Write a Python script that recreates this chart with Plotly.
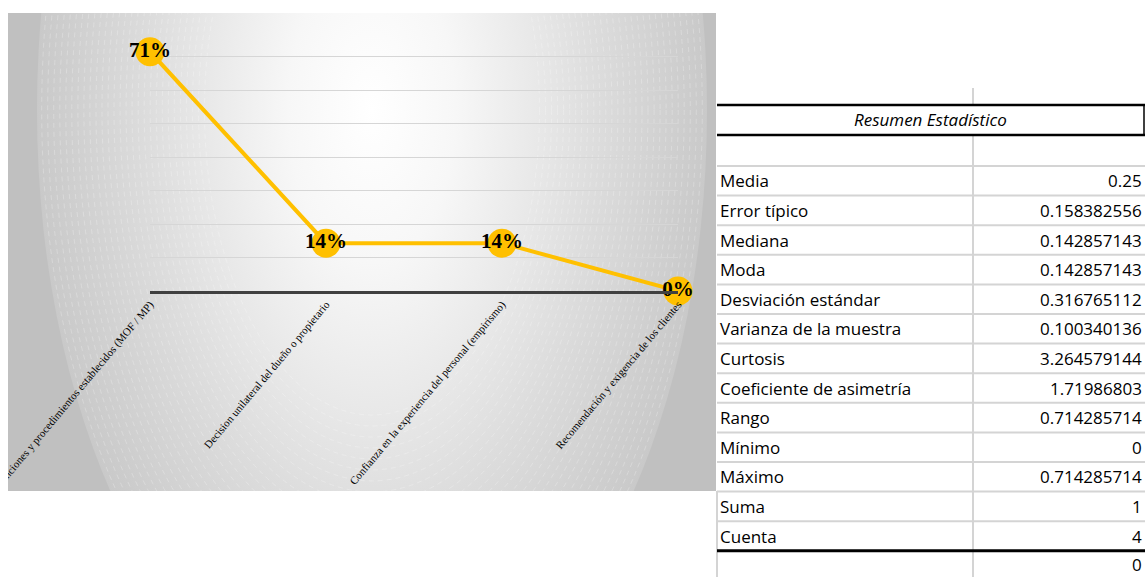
import base64
import plotly.graph_objects as go

# ---------------- data ----------------
categories = [
    "Funciones y procedimientos establecidos (MOF / MP)",
    "Decision unilateral del dueño o propietario",
    "Confianza en la experiencia del personal (empirismo)",
    "Recomendación y exigencia de los clientes",
]
values = [0.714285714, 0.142857143, 0.142857143, 0.0]

table_title = "Resumen Estadístico"
stat_names = [
    "Media", "Error típico", "Mediana", "Moda", "Desviación estándar",
    "Varianza de la muestra", "Curtosis", "Coeficiente de asimetría",
    "Rango", "Mínimo", "Máximo", "Suma", "Cuenta",
]
stat_values = [
    "0.25", "0.158382556", "0.142857143", "0.142857143", "0.316765112",
    "0.100340136", "3.264579144", "1.71986803", "0.714285714", "0",
    "0.714285714", "1", "4",
]
extra_value = "0"

# ---------------- layout geometry (pixels) ----------------
W, H = 1145, 577
L, R, T, B = 150, 678, 23, 291


def px(x):
    return (x - L) / (R - L)


def py(y):
    return (B - y) / (B - T)


# ---------------- background (radial gradient) ----------------
AW, AH = 708, 478
cx, cy, rx, ry = 364, 97, 335, 610
rings = []
s = 0.50
while s <= 1.0:
    rings.append(
        f'<ellipse cx="{cx}" cy="{cy}" rx="{rx*s:.1f}" ry="{ry*s:.1f}" fill="none" '
        f'stroke="#ffffff" stroke-opacity="0.3" stroke-width="0.8" stroke-dasharray="5 4"/>'
    )
    s += 0.018
svg = f'''<svg xmlns="http://www.w3.org/2000/svg" width="{AW}" height="{AH}" viewBox="0 0 {AW} {AH}" preserveAspectRatio="none">
<defs><radialGradient id="g" cx="0.5" cy="0.5" r="0.5">
<stop offset="0" stop-color="#ffffff"/>
<stop offset="0.25" stop-color="#f7f7f7"/>
<stop offset="0.5" stop-color="#e8e8e8"/>
<stop offset="0.68" stop-color="#dcdcdc"/>
<stop offset="1" stop-color="#c9c9c9"/>
</radialGradient></defs>
<rect x="0" y="0" width="{AW}" height="{AH}" fill="#c0c0c0"/>
<ellipse cx="{cx}" cy="{cy}" rx="{rx}" ry="{ry}" fill="url(#g)"/>
{''.join(rings)}
</svg>'''
svg_uri = "data:image/svg+xml;base64," + base64.b64encode(svg.encode()).decode()

fig = go.Figure()

fig.add_trace(go.Scatter(
    x=categories,
    y=values,
    mode="lines+markers+text",
    line=dict(color="#FFC000", width=4),
    marker=dict(color="#FFC000", size=29),
    texttemplate="<b>%{y:.0%}</b>",
    textposition="middle center",
    textfont=dict(family="Liberation Serif", size=21, color="#000000"),
    cliponaxis=False,
    hoverinfo="skip",
    showlegend=False,
))

fig.update_layout(
    width=W, height=H, autosize=False,
    margin=dict(l=L, r=W - R, t=T, b=H - B, pad=0),
    paper_bgcolor="#ffffff",
    plot_bgcolor="rgba(0,0,0,0)",
    showlegend=False,
    xaxis=dict(
        type="category", range=[0, 3], showgrid=False, zeroline=False,
        showline=True, linecolor="#404040", linewidth=2.5,
        ticks="", tickangle=-50, automargin=False,
        tickfont=dict(family="Liberation Serif", size=11, color="#000000"),
    ),
    yaxis=dict(
        range=[0, 0.8], dtick=0.1, showgrid=True, gridcolor="#d6d6d6", gridwidth=1,
        zeroline=False, showline=False, showticklabels=False, ticks="",
        automargin=False,
    ),
    images=[dict(
        source=svg_uri, xref="paper", yref="paper",
        x=px(8), y=py(13), sizex=(716 - 8) / (R - L), sizey=(491 - 13) / (B - T),
        xanchor="left", yanchor="top", sizing="stretch", layer="below",
    )],
)

shapes = []
annotations = []

# white mask left of chart area (clips first label)
shapes.append(dict(type="rect", xref="paper", yref="paper", layer="above",
                   x0=px(-5), x1=px(8), y0=py(577), y1=py(13),
                   fillcolor="#ffffff", line=dict(width=0)))

# ---------------- statistics table ----------------
TX0, TX1, TXM = 717, 1145, 973
row_top, row_h = 166, 29.6
grey = "#d4d4d4"


def hline(y, color, width):
    shapes.append(dict(type="line", xref="paper", yref="paper", layer="above",
                       x0=px(TX0), x1=px(TX1), y0=py(y), y1=py(y),
                       line=dict(color=color, width=width)))


def vline(x, y0, y1, color, width):
    shapes.append(dict(type="line", xref="paper", yref="paper", layer="above",
                       x0=px(x), x1=px(x), y0=py(y0), y1=py(y1),
                       line=dict(color=color, width=width)))


vline(TXM, 88, 105, grey, 2)
vline(TXM, 135, 577, grey, 2)
vline(717, 491, 577, grey, 2)
for k in range(len(stat_names)):
    hline(row_top + k * row_h, grey, 2)
hline(105, "#000000", 2.5)
hline(135, "#000000", 2.5)
end_y = row_top + len(stat_names) * row_h
hline(end_y, "#000000", 3)
vline(1144, 105, 135, "#000000", 1.5)

font_t = dict(family="Open Sans", size=17, color="#000000")
annotations.append(dict(
    text=f"<i>{table_title}</i>", xref="paper", yref="paper",
    x=px((716 + 1144) / 2), y=py(119), xanchor="center", yanchor="middle",
    showarrow=False, font=font_t))
for k, (n, v) in enumerate(zip(stat_names, stat_values)):
    yc = row_top + (k + 0.5) * row_h
    annotations.append(dict(text=n, xref="paper", yref="paper", x=px(718), y=py(yc),
                            xanchor="left", yanchor="middle", showarrow=False, font=font_t))
    annotations.append(dict(text=v, xref="paper", yref="paper", x=px(1144), y=py(yc),
                            xanchor="right", yanchor="middle", showarrow=False, font=font_t))
annotations.append(dict(text=extra_value, xref="paper", yref="paper", x=px(1144), y=py(end_y + 14),
                        xanchor="right", yanchor="middle", showarrow=False, font=font_t))

fig.update_layout(shapes=shapes, annotations=annotations)

fig.write_html("out.html", config={"displayModeBar": False},
               post_script="document.body.style.margin='0';")
